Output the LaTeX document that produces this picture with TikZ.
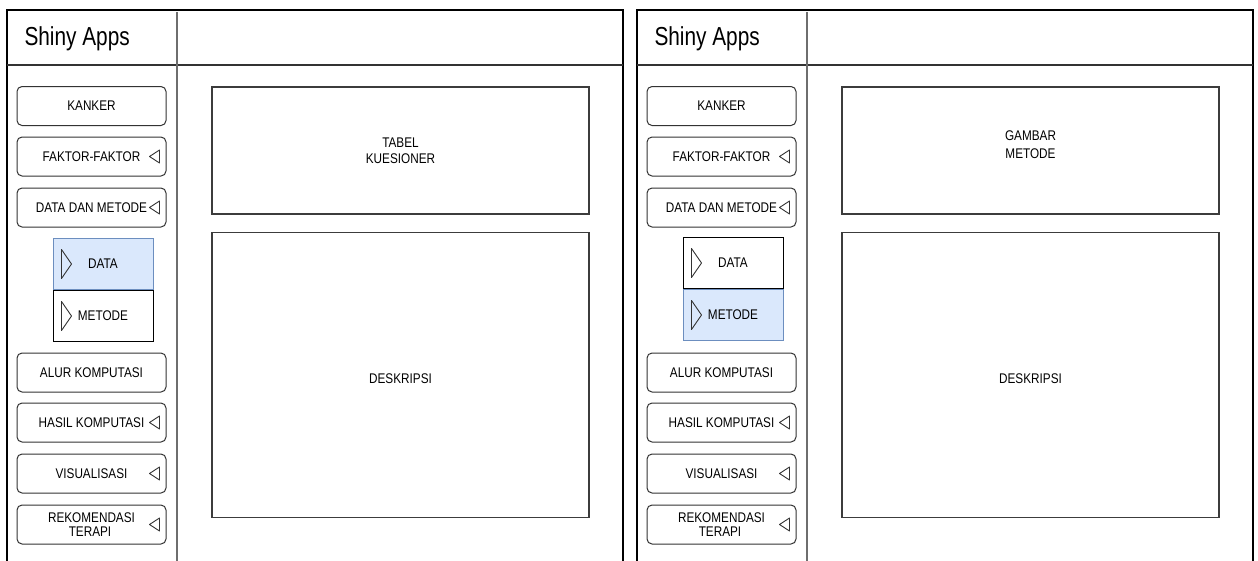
\documentclass[tikz,border=0pt]{standalone}
\usepackage{fontspec}
\usetikzlibrary{calc}
\newfontfamily\uifont[FakeStretch=0.84]{Liberation Sans}
\newfontfamily\titlefont[FakeStretch=0.8]{Liberation Sans}
\definecolor{selfill}{HTML}{DAE8FC}
\definecolor{seldraw}{HTML}{6C8EBF}
\definecolor{btnline}{HTML}{333333}
\definecolor{boxline}{HTML}{3C3C3C}
\definecolor{divline}{HTML}{6E6E6E}

\tikzset{
  uitext/.style={font=\uifont\fontsize{14}{13.5}\selectfont, text=black},
  menubtn/.style={draw=btnline, line width=1pt, rounded corners=5pt,
    minimum width=149pt, minimum height=39pt, inner sep=0pt, align=center, uitext},
  subbtn/.style={draw=black, line width=1pt, fill=white,
    minimum width=100pt, minimum height=51pt, inner sep=0pt, uitext},
  subsel/.style={subbtn, draw=seldraw, fill=selfill},
  contentbox/.style={draw=boxline, line width=1.1pt, inner sep=0pt},
  frameline/.style={draw=black, line width=1.3pt},
  headline/.style={draw=btnline, line width=1.6pt},
  sideline/.style={draw=divline, line width=1.3pt},
  tri/.style={draw=btnline, line width=0.9pt, line join=round},
}

% left-pointing marker at the right end of a menu button
\newcommand\menumark[1]{%
  \draw[tri] ($(#1.east)+(-7,-6.5)$) -- ($(#1.east)+(-17,0)$) -- ($(#1.east)+(-7,6.5)$) -- cycle;}
% right-pointing marker at the left end of a sub-menu item
\newcommand\submark[1]{%
  \draw[tri] ($(#1.west)+(9,-14.5)$) -- ($(#1.west)+(19,0)$) -- ($(#1.west)+(9,14.5)$) -- cycle;}

% one app window: #1 = x offset, #2 = name prefix, #3 = selected sub item (1 or 2),
% #4 = text of the upper content box, #5 = vertical centre of that text
\newcommand\shinypanel[5]{%
\begin{scope}[xshift=#1, name prefix=#2]
  % window frame, header and sidebar
  \draw[frameline] (7,572) -- (7,10) -- (623,10) -- (623,572);
  \draw[headline] (7,65) -- (623,65);
  \draw[sideline] (177,12) -- (177,572);
  \node[anchor=base west, font=\titlefont\fontsize{26}{26}\selectfont] (title) at (21,45) {Shiny Apps};
  % sidebar menu
  \node[menubtn] (kanker) at (91.5,106) {KANKER};
  \node[menubtn] (faktor) at (91.5,156.5) {FAKTOR-FAKTOR};
  \menumark{faktor}
  \node[menubtn] (datametode) at (91.5,207.5) {DATA DAN METODE};
  \menumark{datametode}
  \ifnum#3=1
    \node[subsel] (data) at (103,264) {DATA};
    \node[subbtn, anchor=north] (metode) at (data.south) {METODE};
  \else
    \node[subsel] (metode) at (103,315) {METODE};
    \node[subbtn, anchor=south] (data) at (metode.north) {DATA};
  \fi
  \submark{data}
  \submark{metode}
  \node[menubtn] (alur) at (91.5,372.5) {ALUR KOMPUTASI};
  \node[menubtn] (hasil) at (91.5,422.5) {HASIL KOMPUTASI};
  \menumark{hasil}
  \node[menubtn] (visual) at (91.5,473.5) {VISUALISASI};
  \menumark{visual}
  \node[menubtn] (rekom) at (91.5,524.5) {REKOMENDASI\\TERAPI\hspace*{3pt}};
  \menumark{rekom}
  % content area
  \node[contentbox, minimum width=377pt, minimum height=127pt] (top) at (400.5,150.5) {};
  \node[contentbox, minimum width=377pt, minimum height=285pt] (desc) at (400.5,375) {};
  \node[uitext, align=center] (toptext) at (400.5,#5) {#4};
  \node[uitext] (desctext) at (400.5,378.5) {DESKRIPSI};
\end{scope}}

\begin{document}
\begin{tikzpicture}[x=1pt,y=-1pt]
  \useasboundingbox[fill=white] (0,0) rectangle (1258,560);
  \shinypanel{0pt}{L-}{1}{TABEL\\[2.5pt]KUESIONER}{151}
  \shinypanel{630pt}{R-}{2}{GAMBAR\\[4.5pt]METODE}{144.5}
\end{tikzpicture}
\end{document}
